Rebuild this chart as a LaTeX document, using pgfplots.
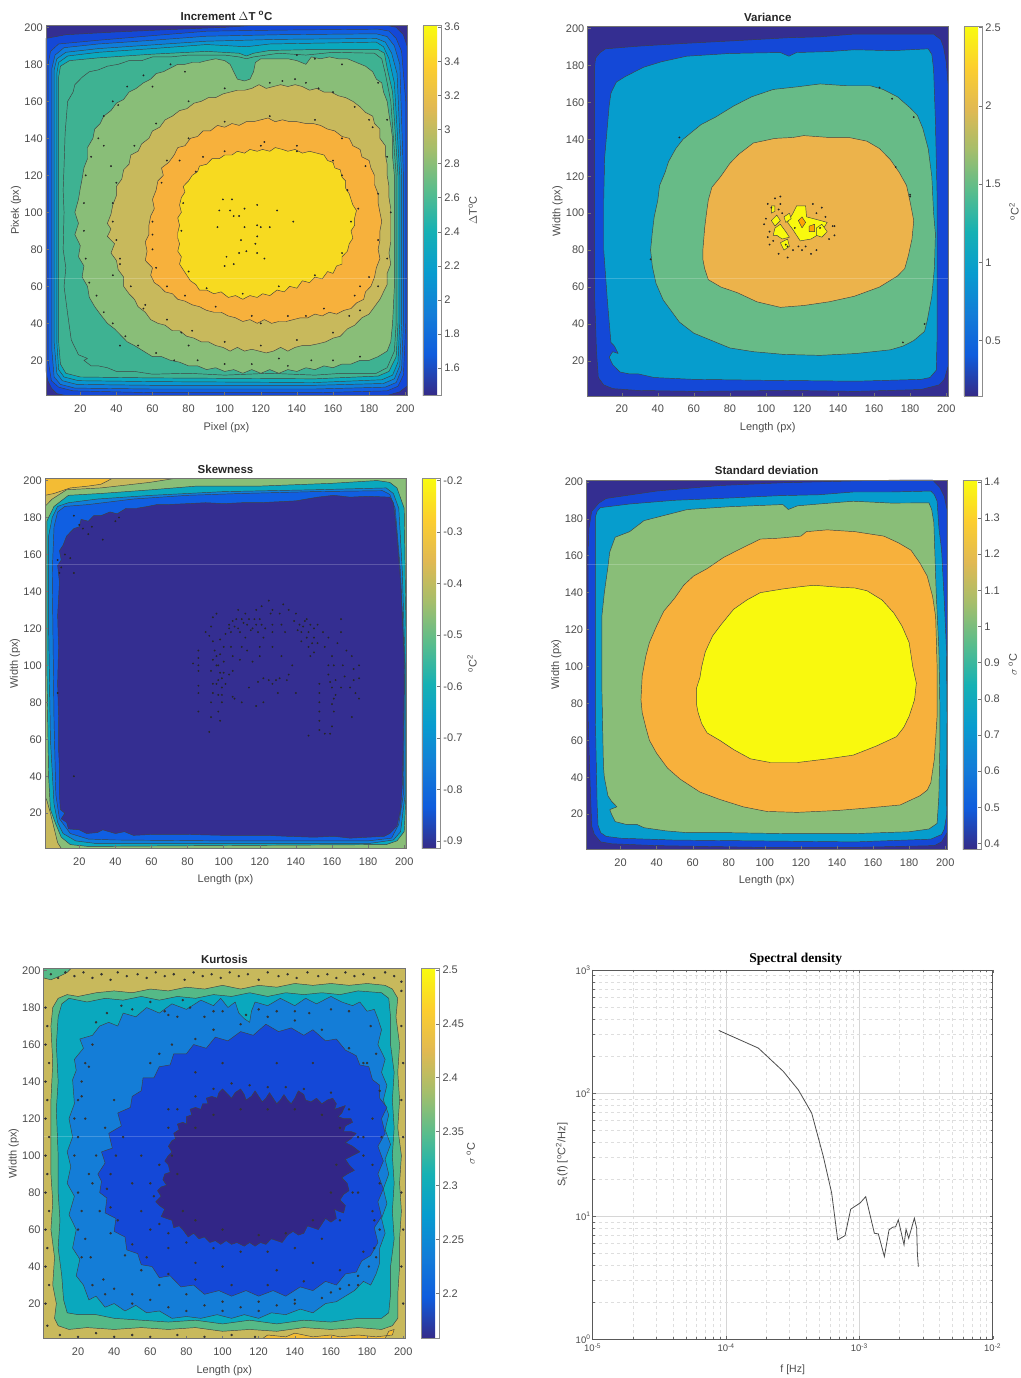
\documentclass[border=0pt]{standalone}
\usepackage{pgfplots}
\pgfplotsset{compat=1.18}
\usepackage{fontspec}
\setmainfont{Liberation Sans}
\newfontfamily\titleserif{Liberation Serif}
\definecolor{lblgray}{RGB}{75,75,75}
\definecolor{dk}{RGB}{52,46,145}
\definecolor{lA}{RGB}{20,72,215}
\definecolor{lB}{RGB}{16,95,226}
\definecolor{lC}{RGB}{15,125,218}
\definecolor{lD}{RGB}{8,150,208}
\definecolor{lE}{RGB}{10,168,190}
\definecolor{lF}{RGB}{62,178,146}
\definecolor{grn}{RGB}{137,190,120}
\definecolor{olv}{RGB}{200,185,92}
\definecolor{org}{RGB}{247,177,60}
\definecolor{ylw}{RGB}{247,218,32}
\definecolor{yel}{RGB}{249,249,14}
\definecolor{gold}{RGB}{243,188,52}
\definecolor{vteal}{RGB}{6,157,205}
\definecolor{vgrn}{RGB}{103,187,135}
\definecolor{vorg}{RGB}{236,179,75}
\definecolor{mid}{RGB}{20,125,215}
\definecolor{kgrn}{RGB}{85,185,135}
\definecolor{kdk}{RGB}{50,38,135}
\pgfplotsset{
  colormap={parula}{rgb255=(53,42,135) rgb255=(15,92,221) rgb255=(18,125,216) rgb255=(7,156,207) rgb255=(21,177,180) rgb255=(89,189,140) rgb255=(165,190,107) rgb255=(225,185,82) rgb255=(252,206,46) rgb255=(249,251,14)},
  mp/.style={
    scale only axis, xmin=1, xmax=201, ymin=1, ymax=201,
    xtick={20,40,...,200}, ytick={20,40,...,200},
    axis on top, tick align=inside, major tick length=3pt,
    xtick pos=bottom, ytick pos=left,
    axis line style={black!55,line width=.5pt},
    tick style={black!55,line width=.4pt},
    tick label style={font=\fontsize{11}{12}\selectfont,text=lblgray},
    /pgf/number format/assume math mode=true,
    xticklabel style={inner sep=1pt,yshift=-8pt},
    yticklabel style={inner sep=1pt,xshift=-2pt},
    label style={font=\fontsize{11}{12}\selectfont,text=lblgray},
    xlabel style={at={(axis description cs:0.5,-0.086)},anchor=center},
    ylabel style={at={(axis description cs:-0.083,0.5)},anchor=center,rotate=0},
    title style={at={(axis description cs:0.5,1)},anchor=south,font=\fontsize{11.5}{13}\bfseries\selectfont,text=black!85,inner sep=1pt,yshift=-2pt},
    colormap name=parula,
  },
  cb/.style n args={4}{
    colorbar, point meta min=#1, point meta max=#2,
    colorbar style={
      at={(1.0443,1)}, anchor=north west, width=18.3pt,
      ytick={#3}, ylabel={#4},
      tick align=inside, major tick length=3pt, ytick pos=right,
      axis line style={black!45,line width=.5pt},
      tick style={black!55,line width=.4pt},
      yticklabel style={font=\fontsize{11}{12}\selectfont,text=lblgray,inner sep=1pt,xshift=2pt},
      /pgf/number format/assume math mode=true,
      /pgf/number format/fixed,
      /pgf/number format/precision=2,
      ylabel style={font=\fontsize{11}{12}\selectfont,text=lblgray,at={(axis description cs:2.73,0.5)},anchor=center,rotate=0},
    },
  },
}
\newcommand{\lv}[2]{\addplot[fill=#1,draw=black!75,line width=.45pt,line join=round,forget plot] coordinates {#2};}
\newcommand{\dt}[1]{\addplot[only marks,mark=*,mark size=.7pt,black!85,forget plot] coordinates {#1};}
\newcommand{\dtb}[1]{\addplot[only marks,mark=*,mark size=1pt,black!80,forget plot] coordinates {#1};}
\newcommand{\seam}[1]{\addplot[white,opacity=.2,line width=.5pt,forget plot] coordinates {(1,#1)(201,#1)};}
\begin{document}
\begin{tikzpicture}
\useasboundingbox (0,0) rectangle (1020pt,1378pt);

% ---- increment
\begin{axis}[mp, at={(46pt,982.5pt)}, anchor=south west, width=361pt, height=370pt,
  title={Increment $\Delta$T \textsuperscript{o}C}, xlabel={Pixel (px)}, ylabel={Pixek (px)},
  cb={1.44}{3.61}{1.6,1.8,2,2.2,2.4,2.6,2.8,3,3.2,3.4,3.6}{$\Delta$T\textsuperscript{o}C},
  axis background/.style={fill=dk}]
\lv{lA}{(1,194)(12,196)(40,197.5)(70,198.8)(100,200)(115,201)(170,201)(190,201)(195,200)(199,196)(201,190)(201,6)(197,3)(190,1)(12,1)(7,2)(4,5)(2,9)(1,14)(1,194)}
\lv{lB}{(2.2,180)(3.5,187)(8,191)(30,193)(60,195.5)(90,197.9)(130,198.5)(185,199)(191,198)(195,194)(198,187)(200.3,160)(200.3,40)(199,12)(196,6)(190,3.5)(150,2.5)(60,2.5)(16,3.5)(8,5.5)(4,9)(2.2,20)(2.2,100)(2.2,180)}
\lv{lC}{(4.3,178)(6,185)(11,189)(30,191)(60,193)(90,195.2)(130,196)(184,196.5)(190,195)(194,190)(197,180)(199,120)(199,40)(198,15)(195,8)(189,5.5)(150,4.5)(60,4.5)(17,5)(9,7)(5.5,11)(4.3,25)(4.3,100)(4.3,178)}
\lv{lD}{(5.5,177)(7,183)(12,186.5)(30,188.5)(60,190.5)(90,192.5)(130,193.5)(184,194)(189,192)(192.5,186)(195.5,175)(198,120)(198,40)(197,17)(194,10)(188,7.5)(150,6.5)(60,6.5)(18,7)(10,9)(7,13)(5.5,30)(5.5,100)(5.5,177)}
\lv{lE}{(7,175)(8,181)(13,184.5)(30,186.5)(60,188.5)(90,190.7)(112,189.5)(125,191)(184,192)(188,189.5)(191,183)(194,170)(197,120)(197,40)(196,19)(193,12)(187,9.5)(150,8)(60,8.5)(19,9)(11,11)(8,15)(7,30)(7,100)(7,175)}
\lv{lF}{(8,173)(9,179)(14,182)(30,183.5)(60,185.5)(90,187)(108,186)(112,184.5)(116,186)(125,187.5)(150,188)(185,188)(188.5,186)(190,178)(193,165)(196,120)(196,40)(195,22)(191,14)(185,11.5)(150,10)(60,10.5)(20,11)(12,13)(9,18)(8,30)(8,100)(8,173)}
\lv{lF}{(11,100)(10.5,112)(11,125)(11.6,143)(13,160)(16,165)(17,169)(21,173)(25,176)(30,177)(35,179)(41,180)(47,182)(54,182)(60,184)(70,184)(80,185)(100,185)(108,184)(112,183)(116,184)(130,186)(145,185)(160,186.5)(183,186)(187,183)(189,175)(192,160)(195,120)(195,40)(194,25)(190,16)(184,13)(165,13)(150,12)(125,13)(100,12)(80,13)(60,12.5)(50,14)(40,14)(35,16)(30,17)(26,17)(22,20)(24,21)(19,23)(17,27)(15,31)(14,38)(13,45)(11,60)(12,70)(10.5,80)(11,100)}
\lv{grn}{(19,107)(20,113)(21,118)(22,124)(24,129)(24,135)(27,140)(28,145)(31,148)(33,152)(37,155)(40,159)(44,161)(47,165)(51,167)(55,170)(59,172)(62,175)(66,176)(70,178)(74,180)(78,180)(82,181)(86,181)(90,182)(95,183)(100,182)(103,180)(105,176)(107,172)(111,171)(114,172)(116,176)(117,181)(120,183)(125,183)(130,183)(135,183)(140,182)(145,180)(148,184)(153,183)(158,184)(163,183)(168,183)(173,181)(178,179)(182,176)(184,172)(187,170)(188,165)(190,160)(191,153)(192,147)(193,140)(193,130)(194,120)(194,110)(194,100)(194,90)(194,80)(194,70)(194,60)(193.5,50)(193,40)(192,30)(190,25)(185,22)(180,20)(175,20)(170,18)(165,18)(160,16)(155,17)(150,15)(145,16)(140,14)(135,15)(130,13)(125,15)(120,13)(115,15)(110,13)(105,15)(100,14)(95,16)(90,15)(85,17)(80,17)(75,19)(70,20)(65,22)(60,22)(55,25)(50,28)(46,30)(42,34)(39,37)(35,40)(31,45)(28,49)(25,54)(24,60)(21,65)(22,71)(19,76)(20,82)(17,88)(19,94)(17,100)(19,107)}
\lv{olv}{(35,94)(37,99)(38,104)(40,109)(40,114)(43,118)(44,123)(47,126)(48,131)(52,133)(54,137)(58,140)(60,144)(64,146)(67,150)(71,152)(75,155)(79,156)(83,159)(87,160)(91,162)(95,162)(99,164)(103,165)(107,166)(111,166)(115,167)(119,169)(123,167)(127,168)(131,169)(135,168)(139,169)(143,168)(147,166)(151,167)(155,165)(159,165)(163,163)(167,162)(171,160)(175,157)(178,154)(182,152)(183,148)(186,145)(186,140)(189,136)(189,131)(190,126)(190,120)(191,114)(191,108)(192,102)(192,96)(192,90)(192,84)(191,78)(192,72)(190,67)(190,61)(188,57)(186,53)(183,49)(180,45)(176,43)(172,39)(168,37)(164,33)(160,32)(156,30)(152,29)(147,28)(143,28)(139,27)(135,25)(131,27)(127,25)(123,24)(119,25)(115,26)(111,25)(107,27)(103,25)(99,27)(95,28)(91,30)(87,30)(83,32)(79,33)(75,36)(71,36)(67,39)(63,40)(59,42)(56,46)(52,49)(50,53)(47,56)(44,60)(44,65)(41,69)(40,74)(37,78)(39,83)(35,87)(37,91)(35,94)}
\lv{org}{(56,74)(57,79)(56,84)(58,88)(58,93)(59,98)(61,102)(60,107)(62,112)(63,117)(66,120)(65,124)(69,127)(72,131)(74,135)(78,136)(81,140)(85,141)(88,144)(92,144)(96,147)(100,146)(104,148)(108,147)(112,149)(116,149)(120,150)(124,151)(128,149)(132,150)(136,149)(140,149)(145,148)(149,148)(153,147)(157,145)(161,144)(165,141)(169,140)(171,136)(175,134)(176,130)(180,128)(181,124)(183,120)(183,115)(185,110)(185,105)(186,100)(187,95)(186,90)(186,85)(185,80)(186,75)(184,70)(183,65)(181,60)(178,57)(177,53)(173,51)(170,48)(166,47)(162,45)(158,46)(154,44)(150,45)(146,43)(142,43)(138,42)(134,41)(130,41)(126,40)(122,42)(118,40)(114,42)(110,41)(106,43)(102,44)(98,46)(94,46)(90,47)(86,49)(82,50)(78,52)(74,53)(71,56)(67,57)(64,60)(61,62)(59,66)(60,70)(56,74)}
\lv{ylw}{(74,89)(75,93)(74,97)(76,100)(75,104)(76,108)(78,111)(77,114)(80,117)(82,120)(85,122)(86,125)(90,126)(93,129)(97,129)(100,131)(104,131)(107,133)(111,132)(114,134)(118,133)(121,134)(125,133)(128,135)(132,134)(135,133)(139,134)(143,132)(147,133)(151,132)(155,131)(157,128)(160,127)(161,124)(164,123)(165,119)(167,117)(167,113)(169,110)(170,107)(171,104)(173,101)(172,97)(172,93)(170,90)(171,86)(169,83)(168,79)(165,76)(165,72)(162,71)(160,67)(157,68)(154,64)(150,65)(147,62)(143,63)(140,59)(136,60)(133,57)(129,58)(125,55)(121,56)(118,54)(114,55)(110,53)(106,55)(102,54)(98,57)(94,56)(90,58)(86,58)(84,61)(81,63)(79,66)(77,69)(75,72)(76,76)(74,79)(75,83)(74,86)(74,89)}
\dt{(99,107)(104,107)(97,101)(103,101)(111,102)(118,104)(105,98)(108,98)(96,92)(111,92)(118,93)(120,92)(125,92)(109,85)(118,87)(117,83)(108,78)(112,79)(118,78)(122,75)(101,76)(105,72)(100,71)(129,101)(138,95)(33,136)(37,125)(33,152)(41,158)(60,168)(78,176)(139,172)(132,171)(152,167)(172,157)(182,146)(150,183)(42,75)(38,66)(55,48)(76,35)(120,40)(145,44)(65,116)(60,88)(75,128)(88,130)(122,138)(140,133)(165,120)(174,102)(175,60)(169,44)(80,28)(130,21)(148,20)(42,28)(30,140)(26,130)(23,120)(22,105)(22,90)(23,75)(25,62)(29,55)(33,46)(38,40)(45,33)(52,28)(62,24)(72,20)(85,20)(100,18)(115,18)(135,17)(160,20)(175,22)(38,160)(46,168)(55,174)(70,180)(140,185)(165,180)(185,170)(190,150)(40,116)(38,105)(38,95)(40,85)(42,72)(48,60)(56,50)(68,42)(82,36)(100,30)(120,28)(140,31)(160,35)(175,47)(185,60)(190,75)(192,100)(190,130)(180,150)(160,165)(145,170)(125,170)(100,167)(80,160)(62,148)(50,136)(60,95)(60,80)(62,70)(68,60)(78,55)(95,49)(115,44)(135,44)(155,48)(172,55)(180,65)(185,85)(185,110)(178,125)(165,140)(150,150)(125,152)(100,149)(80,140)(68,128)(76,90)(77,105)(84,122)(100,133)(120,136)(140,136)(160,128)(168,112)(170,95)(165,78)(150,66)(130,60)(110,56)(90,59)(80,68)}
\seam{64.4}
\end{axis}

% ---- variance
\begin{axis}[mp, at={(587.5pt,982pt)}, anchor=south west, width=360.5pt, height=369.3pt,
  title={Variance}, xlabel={Length (px)}, ylabel={Width (px)},
  cb={0.146}{2.506}{0.5,1,1.5,2,2.5}{\textsuperscript{o}C\textsuperscript{2}},
  axis background/.style={fill=dk}]
\lv{lA}{(5,180)(5.5,184)(8,187)(11,189)(30,190.5)(56,192)(85,193.5)(112,195)(130,195.5)(149,197)(170,197)(193,197)(197,194)(198.5,190)(200,182)(201,170)(201,100)(201,17)(199,10)(196,7)(186,4.5)(150,3.5)(112,4)(60,3.5)(29,4)(15,5)(10,7)(7,11)(6,25)(5,53)(5,110)(5,162)(5,180)}
\lv{vteal}{(10,107)(10.5,130)(13,158)(14,165)(17,171)(22,174)(32,179)(42,182)(56,185)(80,186.5)(108,187)(112.7,185)(117,187)(135,187.5)(149,188.5)(170,188)(190,189)(192,186)(193,178)(194,150)(195,107)(195,60)(195,35)(194.5,15)(191,11)(186,10)(150,9)(100,9.5)(60,10)(38,11)(29,13)(24,13)(19,14)(15,18)(13,22)(15,25)(18,24)(16,28)(14,30)(12,53)(10,80)(10,107)}
\lv{vgrn}{(36,80)(37,90)(38,98)(40,107)(41,115)(44,122)(46,128)(50,135)(54,140)(59,144)(64,148)(72,152)(82,158)(92,163)(104,167)(118,168.5)(130,170)(145,169)(158,169)(165,167)(173,163)(180,157)(184,153)(187,146)(190,135)(192,120)(193,100)(194,89)(193.5,71)(192,55)(189.5,42)(188,36)(182,31)(176,28)(169,26)(150,24)(130,23)(110,23.5)(93,25)(80,27)(70,31)(60,35)(52,41)(43,53)(39,62)(37,71)(36,80)}
\lv{vorg}{(65,80)(66,92)(67,100)(68,107)(70,114)(75,120)(80,127)(85,132)(93,138)(105,140.5)(115,141)(121,142)(135,141)(146,141)(156,139)(163,135)(169,129)(174,122)(178,115)(180,106)(182,96)(181,86)(179,77)(177,70)(173,66)(163,60)(149,55)(135,52)(121,50)(108,49)(95,52)(84,57)(75,60)(68,64)(66,70)(65,75)(65,80)}
\lv{yel}{(115,100)(117,104)(122,104)(122.5,98)(128,96.6)(134,95)(130,89)(125,86)(119,85)(115,91)(112,95)(115,100)}
\lv{yel}{(103,104)(105,104)(105,101)(103,100)(103,104)}
\lv{yel}{(105,92)(108,94)(111,90)(113,87)(109,86)(106,88)(104,88)(105,92)}
\lv{yel}{(110,98)(113,100)(114,97)(111,95)(110,98)}
\lv{yel}{(103,96)(106,99)(108,96)(105,93)(103,96)}
\lv{yel}{(128,92)(131,94)(134,90)(131,87)(128,88)(128,92)}
\lv{yel}{(108,84)(112,86)(113,82)(110,80)(108,84)}
\lv{orange!70!yel}{(118,96)(120,98)(122,95)(120,92)(118,96)}
\lv{orange!70!yel}{(124,93)(127,94)(127,90)(124,90)(124,93)}
\dt{(103,103)(101,105)(105,108)(108,109)(100,97)(99,94)(102,83)(107,78)(112,76)(120,80)(125,78)(128,80)(130,92)(137,93)(138,88)(126,105)(131,103)(128,100)(116,92)(112,82)(115,80)(118,82)(122,82)(133,98)(138,93)(135,86)(107,102)(109,100)(108,105)(102,90)(101,87)(104,85)(111,83)(180,109)(180,110)(172,125)(163,168)(170,162)(182,152)(188,40)(176,30)(52,141)(36,75)}
\seam{64.9}
\end{axis}

% ---- skewness
\begin{axis}[mp, at={(45pt,529.7pt)}, anchor=south west, width=361pt, height=369.6pt,
  title={Skewness}, xlabel={Length (px)}, ylabel={Width (px)},
  cb={-0.914}{-0.197}{-0.9,-0.8,-0.7,-0.6,-0.5,-0.4,-0.3,-0.2}{\textsuperscript{o}C\textsuperscript{2}},
  axis background/.style={fill=olv}]
\lv{gold}{(1,201)(1,192)(6,193)(15,196)(25,197)(32,198)(38,201)(1,201)}
\lv{grn}{(1,186)(5,190)(13,195)(32,196)(59,199)(72,201)(190,201)(201,201)(201,1)(10,1)(8,4)(6,12)(4,20)(2,27)(1,29)(1,186)}
\lv{lE}{(2,178)(6,186)(14,192)(32,193)(60,195)(85,197)(120,197)(160,198.5)(185,200)(192,199)(196,196)(200,185)(201,120)(201,30)(200,10)(196,5)(190,3)(100,2.5)(25,2)(15,3)(10,7)(7,14)(4,22)(3,40)(2,100)(2,178)}
\lv{lC}{(3,170)(5,180)(8,186)(14,188)(30,190)(60,192)(100,194)(150,195)(190,196)(194,193)(197,185)(199,150)(200.5,100)(200.5,30)(198,10)(194,5.5)(180,3.5)(100,3.5)(30,3.5)(18,5)(11,9)(8,15)(6,25)(4,60)(3,120)(3,170)}
\lv{lB}{(5,150)(6,175)(8,183)(12,186)(25,187)(50,190)(80,192)(110,193)(150,194)(188,194.5)(192,192.5)(195,185)(198,150)(200.2,100)(199.5,30)(197,14)(193,6.5)(180,5)(100,5)(40,5.5)(25,6)(15,9)(9,17)(7,30)(6,70)(5,150)}
\lv{dk}{(8.5,72)(8,90)(8.5,110)(8,127)(9,145)(8,154)(10,157)(9,162)(11,165)(13,170)(17,174)(20,175)(21,179)(25,178)(28,181)(32,181)(37,183)(41,182)(46,185)(52,185)(58,186)(63,187)(69,187)(80,187.5)(90,188)(100,187.5)(110,188)(120,188)(130,188.5)(140,189)(146,190)(152,191)(161,192)(170,191)(180,191.5)(192,191)(194,188)(195,180)(196,170)(198,145)(199,125)(200,105)(200,90)(199.5,60)(199,36)(198,22)(196,13)(192,9)(189,7.5)(180,7)(170,6.5)(161,7.5)(150,7)(135,7.5)(124,8)(100,8)(80,8.5)(60,8.5)(50,8)(45,10)(40,9)(33,11)(30,9.5)(24,9)(20,11)(14,11.5)(13,15)(10,17)(12,20)(9.5,22)(9,30)(9,45)(8.5,55)(8.5,72)}
\dt{(86,75)(86,85)(86,89)(86,97)(86,100)(86,104)(86,108)(83,101)(92,64)(93,72)(93,80)(94,85)(94,90)(93,97)(94,103)(95,108)(94,113)(92,116)(90,118)(93,121)(94,126)(96,128)(98,70)(97,75)(99,80)(97,84)(99,88)(97,92)(100,96)(97,100)(100,102)(98,106)(100,110)(98,114)(101,117)(103,120)(103,122)(104,118)(104,110)(105,105)(105,97)(103,95)(108,130)(107,125)(108,120)(110,125)(112,128)(113,122)(112,115)(110,110)(109,103)(113,108)(116,120)(117,125)(118,130)(120,125)(121,132)(123,120)(122,115)(120,110)(125,135)(126,128)(127,122)(127,118)(127,130)(131,128)(132,122)(134,118)(133,133)(136,130)(140,128)(142,122)(143,118)(145,124)(146,115)(147,110)(143,113)(150,120)(149,112)(148,105)(152,122)(155,118)(158,115)(156,110)(160,105)(161,100)(158,95)(162,92)(160,88)(162,84)(160,79)(161,75)(153,90)(153,85)(153,80)(153,75)(153,70)(153,65)(147,62)(159,63)(156,63)(160,67)(165,125)(165,118)(163,112)(168,108)(166,100)(167,94)(165,88)(171,105)(172,98)(172,92)(170,88)(173,85)(175,82)(171,72)(175,100)(175,93)(125,92)(127,90)(129,92)(131,93)(122,93)(119,91)(135,92)(130,85)(122,80)(118,78)(110,80)(106,82)(105,83)(114,88)(116,102)(127,110)(132,105)(138,100)(136,95)(140,85)(120,105)(17,181)(20,176)(22,174)(25,171)(27,175)(33,168)(40,178)(42,180)(8,157)(9,150)(10,153)(12,160)(15,158)(17,150)(17,40)(8,85)(105,124)(106,121)(109,118)(111,123)(114,125)(115,119)(118,122)(119,118)(121,122)(139,124)(141,119)(144,121)(147,118)(148,122)(146,125)(150,115)(152,112)(150,107)(158,100)(159,91)(161,82)(96,105)(96,100)(98,96)(96,90)(99,84)(101,90)(99,93)}
\seam{154.8}
\end{axis}

% ---- standard deviation
\begin{axis}[mp, at={(586.3pt,528.7pt)}, anchor=south west, width=360.7pt, height=369.3pt,
  title={Standard deviation}, xlabel={Length (px)}, ylabel={Width (px)},
  cb={0.384}{1.405}{0.4,0.5,0.6,0.7,0.8,0.9,1,1.1,1.2,1.3,1.4}{$\sigma$ \textsuperscript{o}C},
  axis background/.style={fill=dk}]
\lv{lA}{(2,163)(2.5,175)(4,184)(8,188.5)(12,191)(40,195)(75,198)(110,199.5)(150,200.5)(175,201)(193,201)(197,197)(199.5,192)(201,185)(201,100)(201,10)(198,5)(194,3)(149,2)(100,2)(40,3)(15,4)(9,5)(5.5,9)(4,13.5)(3,40)(2,73)(2,120)(2,163)}
\lv{vteal}{(6,100)(6,150)(6,181)(7,184)(8.7,186)(25,188)(50,190)(75,191)(108,192.5)(130,193)(149,194.5)(170,194.5)(192,195)(194,193)(195.5,189.5)(196.5,175)(198,163)(199.5,135)(200.7,109)(201,73)(200.7,19)(199.5,12)(198,9)(192,6.5)(150,5)(100,5.5)(50,6)(20,7)(12,8)(9,10)(7.5,14)(7,25)(6,73)(6,100)}
\lv{grn}{(9.6,91)(9.6,110)(9.6,127)(11,140)(13,154)(14,162)(17,170)(25,173)(33,179)(45,182)(57,185)(80,186.5)(110,187.7)(113,185)(118,187)(130,188)(149,189.5)(170,188.5)(191,188.6)(192.5,185)(193.7,178)(195,140)(196.5,109)(197,80)(197,55)(196.5,30)(195.5,15)(191,12)(180,10.5)(150,9.5)(112,9.5)(80,10)(57,10)(45,11)(33,12.7)(29,14.5)(23,14.5)(17,16)(15,20)(14,22.5)(18,24)(15,27)(13,30)(11,40)(10.5,46)(10,70)(9.6,91)}
\lv{org}{(31.3,82)(32,95)(34,105.6)(36,113)(40,122)(44,130)(50,137)(55,144)(60.5,149)(68,153)(77,159)(87,164)(97.5,169)(108,169.5)(120,170.6)(123,173)(134.5,174)(150,173)(166,170.6)(174,167)(181,163)(186,156)(190,149)(193,138)(194.7,127)(195.5,100)(195.5,73)(194,50)(192,37)(190,33)(186,30)(175,25)(158.5,23.5)(140,22)(118,21)(101,21.5)(88,24)(75,28)(64,32)(53,39)(46,45)(40,53)(36,60)(34,67)(32,75)(31.3,82)}
\lv{yel}{(62,80)(62,88)(64,94)(65,100)(67,108)(71,116.5)(76,123)(82.7,131)(90,136)(97.5,140)(110,142)(118,143)(127,144)(140,143)(150,142.5)(156.7,141)(165,136)(171.5,129)(176,122)(180,113)(182,100)(184,91)(183,82)(180,73)(177,67)(173,62)(162,57)(149,52)(135,50)(118,48)(103,48)(92,50)(82.7,55)(75,60)(68,64)(65,69)(63,75)(62,80)}
\seam{155.5}
\end{axis}

% ---- kurtosis
\begin{axis}[mp, at={(43.7pt,39.3pt)}, anchor=south west, width=361.3pt, height=370pt,
  title={Kurtosis}, xlabel={Length (px)}, ylabel={Width (px)},
  cb={2.158}{2.501}{2.2,2.25,2.3,2.35,2.4,2.45,2.5}{$\sigma$ \textsuperscript{o}C},
  axis background/.style={fill=olv}]
\lv{kgrn}{(1,201)(1,196)(5,195)(10,197)(14,199)(16,201)(1,201)}
\lv{gold}{(122,1)(125,3)(135,2)(140,4)(150,2)(160,3)(165,2)(175,3)(185,2)(194,3)(195,6)(192,5)(190,1)(122,1)}
\lv{kgrn}{(5,100)(5,130)(6,150)(5,170)(6,180)(9,185)(14,187)(20,186)(30,188)(40,189)(50,188)(60,190)(70,189)(80,191)(90,190)(100,192)(110,190)(120,192)(130,191)(140,193)(150,192)(160,193)(170,192)(180,193)(190,192)(194,190)(197,185)(196,175)(198,160)(197,145)(198,130)(197,115)(199,100)(198,85)(199,70)(198,55)(198,40)(197,25)(197,12)(194,8)(188,6)(175,7)(160,6)(145,7)(130,5)(115,6)(100,5)(85,7)(70,6)(55,7)(40,6)(25,7)(15,6)(9,8)(7,12)(8,20)(6,30)(7,45)(5,60)(6,75)(5,90)(5,100)}
\lv{lE}{(9,100)(8,125)(9,140)(8,160)(9,175)(11,182)(15,185)(25,183)(35,185)(45,184)(55,186)(65,184)(75,186)(85,185)(95,187)(105,186)(115,188)(125,186)(135,188)(145,187)(155,188)(165,187)(175,189)(188,188)(192,185)(193,175)(193,160)(195,145)(194,130)(195,115)(194,100)(195,85)(194,70)(195,55)(193,40)(193,25)(192,15)(188,12)(175,12)(160,10)(145,11)(130,9)(115,11)(100,9)(85,11)(70,10)(55,11)(40,12)(30,14)(20,14)(14,15)(12,22)(11,35)(9,50)(10,65)(9,80)(9,100)}
\lv{mid}{(14,102)(17,110)(15,120)(18,128)(17,141)(19,146)(18,152)(23,158)(21,163)(28,165)(32,170)(37,172)(42,170)(45,177)(52,175)(58,180)(65,177)(72,182)(80,179)(88,184)(95,181)(99,185)(103,180)(107,183)(109,177)(112,174)(115,172)(116,178)(118,183)(125,181)(132,185)(140,181)(146,185)(152,182)(160,186)(166,183)(172,181)(176,183)(180,178)(184,179)(186,174)(188,168)(186,160)(190,152)(188,145)(191,138)(189,130)(192,122)(190,114)(193,106)(190,98)(192,90)(189,82)(191,74)(188,66)(190,58)(187,50)(187,42)(185,36)(182,30)(178,32)(173,27)(168,24)(163,21)(157,20)(150,15)(143,17)(135,14)(127,15)(120,12)(112,14)(105,12)(97,14)(88,12)(80,13)(72,12)(65,16)(58,15)(52,19)(46,16)(40,20)(35,18)(30,24)(26,22)(23,30)(19,35)(21,44)(17,50)(19,60)(15,68)(18,78)(14,85)(16,94)(14,102)}
\lv{lA}{(31,90)(35,96)(33,102)(39,104)(37,112)(44,116)(42,123)(49,126)(50,132)(55,135)(56,142)(62,142)(65,148)(71,149)(73,155)(80,155)(84,160)(91,158)(96,164)(103,162)(110,167)(117,165)(124,171)(131,167)(138,169)(145,165)(150,168)(157,162)(163,163)(168,157)(174,154)(176,149)(181,148)(183,141)(187,138)(187,131)(191,126)(188,120)(190,112)(186,105)(189,97)(186,90)(189,82)(186,75)(188,67)(184,61)(186,53)(182,46)(177,43)(174,37)(168,36)(163,30)(157,32)(150,27)(143,29)(135,24)(128,27)(120,24)(113,27)(105,24)(98,27)(90,25)(84,30)(77,29)(71,35)(65,34)(61,40)(55,41)(53,47)(47,49)(46,56)(40,59)(41,66)(35,69)(36,77)(32,80)(33,86)(31,90)}
\lv{kdk}{(64,81)(66,83)(69,84)(67,87)(68,90)(71,91)(70,95)(68,97)(70,100)(72,102)(70,105)(72,108)(74,109)(73,112)(76,114)(75,117)(78,118)(80,117)(80,121)(83,122)(82,125)(85,126)(88,125)(89,128)(92,128)(91,131)(94,132)(97,131)(98,134)(100,136)(103,133)(105,131)(107,134)(110,136)(112,133)(113,130)(116,132)(118,135)(120,132)(122,129)(124,131)(126,134)(128,131)(130,128)(132,130)(134,133)(136,130)(138,128)(140,131)(142,135)(145,133)(146,130)(149,129)(152,131)(155,128)(158,130)(161,131)(163,128)(162,125)(165,126)(168,127)(166,123)(164,121)(167,120)(171,120)(172,118)(168,116)(167,113)(171,113)(174,112)(171,109)(168,107)(172,105)(176,102)(172,100)(168,98)(170,95)(173,92)(169,90)(166,88)(169,85)(170,81)(167,79)(165,76)(168,73)(167,69)(164,70)(162,71)(163,66)(160,64)(157,66)(155,63)(153,60)(150,61)(147,62)(145,58)(142,57)(139,59)(136,57)(133,53)(130,54)(127,55)(124,52)(121,53)(118,51)(115,53)(112,51)(108,53)(105,52)(102,54)(99,52)(96,54)(93,53)(90,56)(87,55)(84,58)(81,56)(78,60)(76,62)(73,61)(72,65)(69,66)(66,67)(68,71)(65,73)(63,75)(66,78)(64,81)}
\dtb{(5,198)(9,196)(13,199)(18,197)(23,199)(28,196)(33,198)(38,195)(42,199)(47,197)(53,198)(58,196)(63,199)(68,197)(73,198)(79,195)(84,199)(89,197)(94,198)(99,196)(104,199)(109,197)(114,198)(120,195)(125,199)(131,197)(136,198)(141,196)(147,199)(153,197)(158,198)(163,196)(168,199)(173,197)(178,198)(184,196)(190,199)(195,197)(199,194)(199,189)(2,180)(3,170)(2,160)(4,150)(2,140)(3,130)(2,120)(4,110)(2,100)(3,90)(2,80)(4,70)(2,60)(3,50)(2,40)(4,30)(2,20)(3,8)(199,170)(200,150)(199,130)(200,110)(199,80)(200,60)(199,40)(200,20)(10,3)(20,2)(30,4)(40,2)(50,3)(60,2)(75,3)(90,2)(105,3)(118,2)(30,172)(36,177)(44,181)(50,179)(60,183)(70,176)(78,184)(90,175)(100,178)(130,178)(148,177)(170,178)(182,170)(24,150)(22,140)(20,130)(24,120)(20,110)(26,90)(22,70)(24,55)(27,45)(34,33)(40,28)(50,25)(60,22)(70,18)(90,19)(110,18)(130,19)(155,23)(170,30)(181,40)(184,50)(183,70)(183,95)(183,120)(180,150)(60,150)(65,155)(72,160)(85,163)(95,168)(110,171)(125,175)(140,173)(155,168)(170,158)(178,150)(40,130)(35,115)(30,100)(28,85)(32,70)(38,58)(46,46)(55,38)(65,30)(80,25)(100,21)(120,21)(140,22)(160,26)(175,30)(55,100)(50,85)(55,70)(60,60)(70,50)(85,42)(100,40)(130,38)(150,42)(175,80)(178,110)(150,150)(130,150)(100,150)(85,145)(70,125)(60,85)(62,78)(65,95)(70,115)(75,125)(85,132)(95,136)(105,139)(115,138)(125,137)(135,137)(145,136)(160,134)(170,125)(175,110)(178,100)(172,80)(165,65)(155,55)(140,50)(125,48)(110,48)(95,50)(80,53)(70,58)(65,63)(72,100)(75,90)(78,70)(85,65)(100,60)(120,57)(135,58)(150,65)(160,80)(163,95)(165,115)(155,122)(140,125)(125,125)(110,125)(95,122)(85,115)(68,178)(75,175)(82,180)(95,178)(113,176)(120,179)(140,178)(160,179)(28,160)(26,148)(22,132)(18,120)(18,100)(20,80)(20,60)(22,45)(28,30)(35,25)(50,20)(80,16)(100,16)(120,16)(140,20)(165,28)(175,35)(185,45)(187,60)(187,85)(188,110)(187,135)(185,155)(45,110)(41,100)(38,90)(36,82)(38,72)(42,65)(50,52)(58,45)(70,36)(85,33)(105,30)(125,30)(145,32)(165,38)(178,48)(184,65)}
\seam{110.3}
\end{axis}

% ---- spectral density
\begin{axis}[scale only axis, at={(592.7pt,38.7pt)}, anchor=south west, width=400pt, height=369.3pt,
  xmode=log, ymode=log, xmin=1e-5, xmax=1e-2, ymin=1, ymax=1000,
  xtick={1e-5,1e-4,1e-3,1e-2}, ytick={1,10,100,1000},
  xticklabels={10\textsuperscript{-5},10\textsuperscript{-4},10\textsuperscript{-3},10\textsuperscript{-2}},
  yticklabels={10\textsuperscript{0},10\textsuperscript{1},10\textsuperscript{2},10\textsuperscript{3}},
  grid=both,
  major grid style={black!16,line width=.5pt},
  minor grid style={black!13,dashed,line width=.4pt},
  tick align=inside, major tick length=3pt, minor tick length=2pt,
  axis line style={black!65,line width=.7pt},
  tick style={black!60,line width=.4pt},
  tick label style={font=\fontsize{9.5}{11}\selectfont,text=lblgray,inner sep=1pt},
  xticklabel style={yshift=-3pt},
  yticklabel style={xshift=-1pt},
  xlabel={f [Hz]}, ylabel={S\textsubscript{t}(f) [\textsuperscript{o}C\textsuperscript{2}/Hz]},
  xlabel style={font=\fontsize{10.5}{12}\selectfont,text=lblgray,at={(axis description cs:0.5,-0.083)},anchor=center},
  ylabel style={font=\fontsize{11}{12}\selectfont,text=lblgray,at={(axis description cs:-0.077,0.5)},anchor=center,rotate=0},
  title={Spectral density},
  title style={at={(axis description cs:0.5,1)},anchor=south,font=\fontsize{13.5}{15}\titleserif\bfseries\selectfont,text=black,inner sep=1pt,yshift=-3pt,xshift=3pt}]
\addplot[black!70,line width=.8pt] coordinates {(8.81e-5,323)(1.748e-4,232)(2.69e-4,150)(3.49e-4,106)(4.39e-4,68.8)(5.37e-4,30.5)(6.2e-4,15.4)(6.88e-4,6.42)(7.81e-4,6.96)(8.61e-4,11.4)(1.012e-3,12.8)(1.116e-3,14.4)(1.296e-3,7.27)(1.388e-3,7.18)(1.54e-3,4.7)(1.669e-3,7.74)(1.778e-3,8.14)(1.87e-3,8.2)(1.96e-3,9.34)(2.163e-3,5.85)(2.239e-3,7.84)(2.344e-3,6.62)(2.585e-3,9.63)(2.69e-3,7.99)(2.723e-3,5.0)(2.77e-3,3.9)};
\end{axis}
\end{tikzpicture}
\end{document}
